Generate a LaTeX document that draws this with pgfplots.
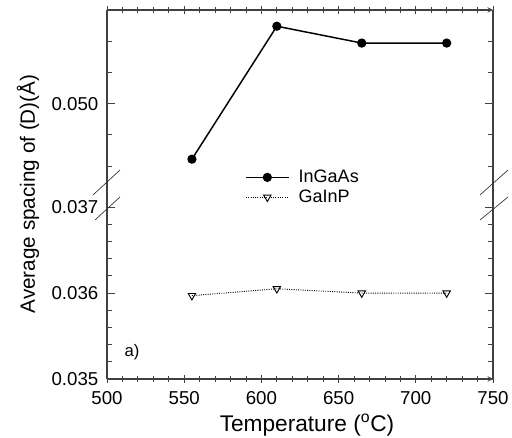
\documentclass[border=0pt]{standalone}
\usepackage{fontspec}
\setmainfont{Liberation Sans}
\usepackage{pgfplots}
\pgfplotsset{compat=1.18}
\begin{document}
\begin{tikzpicture}
\useasboundingbox (0,0) rectangle (384pt,328.5pt);
\pgfplotsset{
  every axis/.append style={
    scale only axis, width=289.5pt, xmin=500, xmax=750, anchor=south west,
    tick align=inside, major tick length=6pt, minor tick length=4pt,
    axis line style={black!75, -, line width=0.8pt},
    every tick/.style={black!75, line width=0.6pt},
    /pgf/number format/assume math mode=true,
    tick label style={font=\fontsize{14}{16}\selectfont},
    xticklabel style={yshift=-3pt},
    yticklabel style={xshift=-3pt, /pgf/number format/.cd, fixed, fixed zerofill, precision=3},
    scaled y ticks=false,
    xtick={500,550,...,750}, minor x tick num=4,
  },
  legend image code/.code={\draw[mark repeat=2,mark phase=2,#1] plot coordinates {(0pt,0pt) (16pt,0pt) (32pt,0pt)}; \path (37pt,0pt);},
}
% upper panel
\begin{axis}[at={(80.25pt,181.5pt)}, height=139.5pt, ymin=0.04852, ymax=0.0515,
  axis x line=top, axis y line=box, xticklabels={},
  ytick={0.050}, minor ytick={0.049,0.0495,0.0505,0.051},
  legend style={at={(axis description cs:0.3575,0.155)}, anchor=north west, draw=none, fill=none,
    font=\fontsize{13.5}{15}\selectfont, row sep=0pt, inner sep=0pt},
  legend cell align=left]
\addplot[black, line width=1.1pt, mark=*, mark size=2.9pt] coordinates {
  (555,0.04911) (610,0.05124) (665,0.05097) (720,0.05097)};
\addlegendentry{InGaAs}
\addlegendimage{black, densely dotted, line width=0.7pt, mark=triangle, mark size=3.2pt, mark options={solid, rotate=180, fill=white}}
\addlegendentry{GaInP}
\end{axis}
% lower panel
\begin{axis}[at={(80.25pt,44.25pt)}, height=137.25pt, ymin=0.035, ymax=0.03713,
  axis x line=bottom, axis y line=box,
  ytick={0.035,0.036,0.037}, minor y tick num=4]
\addplot[black, densely dotted, line width=0.7pt, mark=triangle, mark size=3.2pt, mark options={solid, rotate=180, fill=white}] coordinates {
  (555,0.03597) (610,0.03605) (665,0.03600) (720,0.03600)};
\node[font=\fontsize{12.5}{15}\selectfont] at (axis description cs:0.065,0.148) {a)};
\end{axis}
% axis labels
\node[rotate=90, font=\fontsize{15.5}{18}\selectfont] at (21pt,183pt) {Average spacing of (D)(Å)};
\node[font=\fontsize{17}{20}\selectfont] at (230.25pt,9.75pt) {Temperature (\textsuperscript{o}C)};
% break marks
\draw[black!80, line width=0.5pt] (69.75pt,182.25pt) -- (90pt,201pt);
\draw[black!80, line width=0.5pt] (71.25pt,163.5pt) -- (90pt,180.75pt);
\draw[black!80, line width=0.5pt] (360pt,182.25pt) -- (381pt,201pt);
\draw[black!80, line width=0.5pt] (360pt,163.5pt) -- (381pt,180.75pt);
\end{tikzpicture}
\end{document}
